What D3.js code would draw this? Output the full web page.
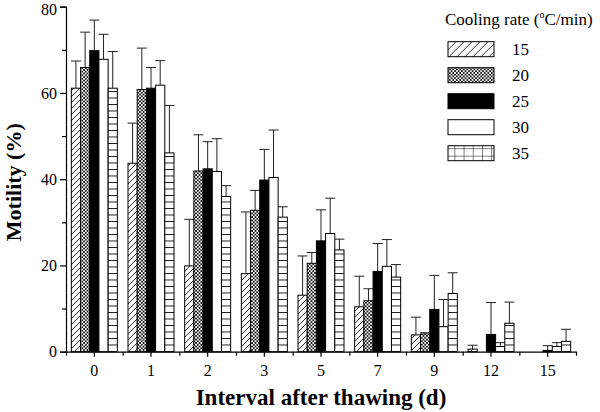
<!DOCTYPE html>
<html><head><meta charset="utf-8">
<script src="https://cdn.jsdelivr.net/npm/d3@7/dist/d3.min.js"></script>
<style>body{margin:0;background:#fff}svg{display:block}text{font-family:"Liberation Serif","Times New Roman",serif;fill:#000}</style>
</head><body>
<svg id="c" width="600" height="412"></svg>
<script>
const categories = ["0","1","2","3","5","7","9","12","15"];
const rates = ["15","20","25","30","35"];
const mean15 = [61.1, 43.7, 19.9, 18.1, 13.1, 10.4, 3.9, 0.6, 0];
const mean20 = [65.9, 60.8, 41.9, 32.8, 20.5, 11.8, 4.1, 0, 0];
const mean25 = [69.8, 61.1, 42.4, 39.8, 25.7, 18.6, 9.8, 4.0, 0.3];
const mean30 = [67.8, 61.8, 41.8, 40.4, 27.4, 19.8, 5.8, 1.2, 1.2];
const mean35 = [61.1, 46.1, 36.0, 31.2, 23.6, 17.3, 13.5, 6.6, 2.4];
const err15 = [6.3, 9.3, 10.8, 14.3, 9.1, 7.1, 4.1, 0.9, 0];
const err20 = [8.2, 9.6, 8.4, 4.6, 2.5, 2.8, 0.3, 0, 0];
const err25 = [7.1, 4.8, 6.3, 7.1, 7.2, 6.5, 7.9, 7.4, 1.1];
const err30 = [5.8, 5.7, 7.6, 11.0, 8.2, 6.2, 6.3, 0.9, 0.9];
const err35 = [8.5, 11.0, 2.5, 2.4, 2.5, 2.9, 4.8, 4.9, 2.8];
const yTicks = [0, 20, 40, 60, 80];
const yMinor = [10, 30, 50, 70];

const means = [mean15, mean20, mean25, mean30, mean35];
const errs = [err15, err20, err25, err30, err35];
const fills = ["url(#p15)", "url(#p20)", "#000", "#fff", "url(#p35)"];
const legendFills = ["url(#p15L)", "url(#p20)", "#000", "#fff", "url(#p35L)"];

const svg = d3.select("#c");
const defs = svg.append("defs");
// diagonal hatch
let p = defs.append("pattern").attr("id","p15").attr("patternUnits","userSpaceOnUse").attr("width",6).attr("height",6);
p.append("rect").attr("width",6).attr("height",6).attr("fill","#fff");
p.append("path").attr("d","M0,6L6,0M-1,1L1,-1M5,7L7,5").attr("stroke","#000").attr("stroke-width",0.8);
p = defs.append("pattern").attr("id","p15L").attr("patternUnits","userSpaceOnUse").attr("width",8).attr("height",8);
p.append("rect").attr("width",8).attr("height",8).attr("fill","#fff");
p.append("path").attr("d","M0,8L8,0M-1,1L1,-1M7,9L9,7").attr("stroke","#000").attr("stroke-width",0.8);
// crosshatch
p = defs.append("pattern").attr("id","p20").attr("patternUnits","userSpaceOnUse").attr("width",3.5).attr("height",3.5);
p.append("rect").attr("width",3.5).attr("height",3.5).attr("fill","#fff");
p.append("path").attr("d","M0,3.5L3.5,0M0,0L3.5,3.5").attr("stroke","#000").attr("stroke-width",0.8);
// horizontal lines
p = defs.append("pattern").attr("id","p35").attr("patternUnits","userSpaceOnUse").attr("width",10).attr("height",6.5);
p.append("rect").attr("width",10).attr("height",6.5).attr("fill","#fff");
p.append("path").attr("d","M0,0.5H10").attr("stroke","#000").attr("stroke-width",0.9);
// grid for legend
p = defs.append("pattern").attr("id","p35L").attr("patternUnits","userSpaceOnUse").attr("width",9.2).attr("height",7.5).attr("x",448).attr("y",145);
p.append("rect").attr("width",9.2).attr("height",7.5).attr("fill","#fff");
p.append("path").attr("d","M0,0H9.2M0,0V7.5").attr("stroke","#000").attr("stroke-width",1);

const x0 = 66, x1 = 576, yTop = 6.7, yBot = 351.7;
const x = d3.scaleBand().domain(categories).range([x0, x1]).padding(0);
const xs = d3.scaleBand().domain(rates).range([0, 46]).padding(0);
const y = d3.scaleLinear().domain([0, 80]).range([yBot, yTop]);
const off = (x.bandwidth() - 46) / 2;

const data = [];
rates.forEach((r, i) => categories.forEach((c, j) => data.push({r, i, c, v: means[i][j], e: errs[i][j]})));

const g = svg.append("g");
// error bars
const eb = g.selectAll("g.eb").data(data.filter(d => d.e > 0)).join("g").attr("stroke","#222").attr("stroke-width",1);
eb.append("line")
  .attr("x1", d => x(d.c) + off + xs(d.r) + xs.bandwidth()/2)
  .attr("x2", d => x(d.c) + off + xs(d.r) + xs.bandwidth()/2)
  .attr("y1", d => y(d.v)).attr("y2", d => y(d.v + d.e));
eb.append("line")
  .attr("x1", d => x(d.c) + off + xs(d.r) + xs.bandwidth()/2 - 5)
  .attr("x2", d => x(d.c) + off + xs(d.r) + xs.bandwidth()/2 + 5)
  .attr("y1", d => y(d.v + d.e)).attr("y2", d => y(d.v + d.e));
// bars
g.selectAll("rect.bar").data(data.filter(d => d.v > 0)).join("rect")
  .attr("x", d => x(d.c) + off + xs(d.r))
  .attr("width", xs.bandwidth())
  .attr("y", d => y(d.v))
  .attr("height", d => y(0) - y(d.v))
  .attr("fill", d => fills[d.i])
  .attr("stroke", "#000").attr("stroke-width", 1);

// axes
const yAxis = svg.append("g").attr("transform", `translate(${x0},0)`)
  .call(d3.axisLeft(y).tickValues(yTicks).tickSize(6).tickPadding(3).tickFormat(d3.format("d")));
svg.append("g").attr("transform", `translate(${x0},0)`)
  .call(d3.axisLeft(y).tickValues(yMinor).tickSize(4).tickFormat(""))
  .call(s => s.select(".domain").remove());
yAxis.selectAll("text").attr("font-size", 16).attr("font-family", "Liberation Serif")
  .attr("dy", d => d === 80 ? "0.5em" : "0.32em");
const xAxis = svg.append("g").attr("transform", `translate(0,${yBot})`)
  .call(d3.axisBottom(x).tickSize(5).tickPadding(8).tickSizeOuter(0));
xAxis.selectAll("text").attr("font-size", 16).attr("font-family", "Liberation Serif");
svg.append("g").attr("transform", `translate(0,${yBot})`)
  .call(d3.axisBottom(d3.scaleLinear().domain([0, categories.length]).range([x0, x1]))
    .tickValues(d3.range(0, categories.length + 1)).tickSize(4).tickFormat(""))
  .call(s => s.select(".domain").remove());
svg.selectAll(".domain, .tick line").attr("stroke", "#000").attr("stroke-width", 1.2);

// titles
svg.append("text").attr("transform", `translate(21,${(yTop + yBot) / 2 + 3}) rotate(-90)`)
  .attr("text-anchor", "middle").attr("font-size", 22).attr("font-weight", "bold").text("Motility (%)");
svg.append("text").attr("x", (x0 + x1) / 2).attr("y", 405)
  .attr("text-anchor", "middle").attr("font-size", 23).attr("font-weight", "bold").text("Interval after thawing (d)");

// legend
const lt = svg.append("text").attr("x", 445).attr("y", 25).attr("font-size", 17);
lt.append("tspan").text("Cooling rate (");
lt.append("tspan").attr("font-size", 10).attr("dy", -7).text("o");
lt.append("tspan").attr("dy", 7).text("C/min)");
const lg = svg.append("g").selectAll("g").data(rates).join("g")
  .attr("transform", (d, i) => `translate(448,${41.7 + i * 26})`);
lg.append("rect").attr("width", 46).attr("height", 15)
  .attr("fill", (d, i) => legendFills[i]).attr("stroke", "#000").attr("stroke-width", 1);
lg.append("text").attr("x", 64).attr("y", 13).attr("font-size", 17).text(d => d);
</script>
</body></html>
